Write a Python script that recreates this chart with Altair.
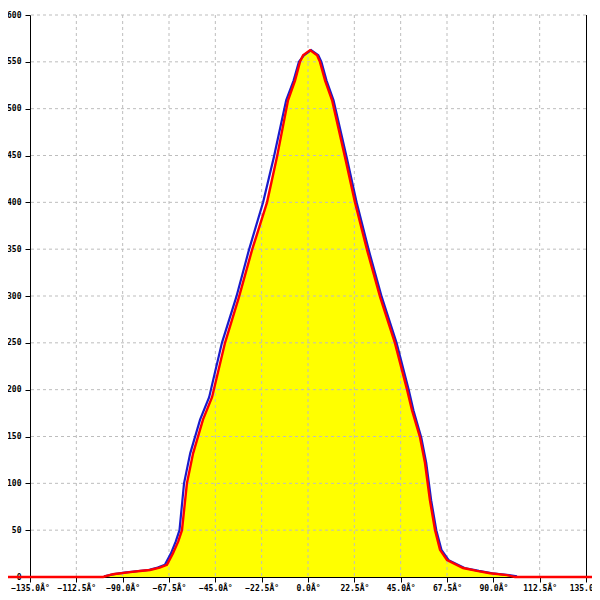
import altair as alt
import pandas as pd

# Tick values
x_ticks = [-135.0, -112.5, -90.0, -67.5, -45.0, -22.5, 0.0, 22.5, 45.0, 67.5, 90.0, 112.5, 135.0]
y_ticks = [0, 50, 100, 150, 200, 250, 300, 350, 400, 450, 500, 550, 600]

# Red series (angle in degrees, count)
red_x = [-150, -99.5, -94.7, -87.5, -81.6, -76.7, -72, -68.5, -65.6, -63, -61.2, -58.8, -55.8, -51.0,
         -46.6, -40.3, -33.5, -27.2, -19.9, -15.1, -9.7, -6.3, -3.9, -2.4, 1.0, 4.4, 5.8, 8.3, 11.7,
         18.0, 22.8, 28.7, 35.0, 42.2, 48.1, 50.5, 54.4, 56.8, 59.2, 61.7, 64.1, 67.5, 75.3, 82.0,
         88.4, 96.6, 100.5, 145]
red_y = [0, 0, 3, 5, 6.4, 7.5, 10, 13, 25, 38, 50, 100, 132, 168, 192, 250, 299, 349, 400, 448, 509,
         530, 550, 557, 562.5, 557, 550, 530, 509, 448, 400, 349, 299, 250, 200, 178, 149, 122, 82,
         50, 29, 18, 9.6, 6.5, 4, 2, 0, 0]

# Blue series
blue_x = [-99, -94.2, -88.2, -82.3, -77.5, -73, -69.5, -66.6, -64.2, -62.4, -60.2, -57.2, -52.4, -48,
          -41.8, -34.8, -28.7, -21.8, -16.6, -10.6, -7, -4.4, -2.0, 1.5, 5.0, 6.5, 9, 12.4, 18.8,
          23.6, 29.5, 35.8, 43, 48.9, 51.2, 55, 57.4, 59.8, 62.3, 64.8, 68.3, 76, 83, 89.5, 97.6,
          101.5]
blue_y = [0.8, 3, 5, 6.4, 7.5, 10, 13, 25, 38, 50, 100, 132, 168, 192, 250, 299, 349, 400, 448, 509,
          530, 550, 557, 562.5, 557, 550, 530, 509, 448, 400, 349, 299, 250, 200, 178, 149, 122, 82,
          50, 29, 18, 9.6, 6.5, 4, 2, 0.8]

red_df = pd.DataFrame({"angle": red_x, "count": red_y})
blue_df = pd.DataFrame({"angle": blue_x, "count": blue_y})
gridx_df = pd.DataFrame({"angle": x_ticks[1:-1]})
gridy_df = pd.DataFrame({"count": y_ticks[1:]})
border_df = pd.DataFrame({"angle": [x_ticks[-1]]})

FONT = "DejaVu Sans Mono"

xscale = alt.Scale(domain=[x_ticks[0], x_ticks[-1]], nice=False, zero=False)
yscale = alt.Scale(domain=[y_ticks[0], y_ticks[-1]], nice=False, zero=True)

xaxis = alt.Axis(values=x_ticks, labelExpr="format(datum.value, '.1f') + '\u00c2\u00b0'",
                 grid=False, title=None, domainColor="black", tickColor="black", tickSize=5,
                 labelFont=FONT, labelFontSize=8, labelFontWeight="bold", labelColor="black",
                 labelPadding=2, labelFlush=False, labelOverlap=False)
yaxis = alt.Axis(values=y_ticks, format="d", grid=False, title=None, domainColor="black",
                 tickColor="black", tickSize=5, labelFont=FONT, labelFontSize=8,
                 labelFontWeight="bold", labelColor="black", labelPadding=4, labelFlush=False,
                 labelOverlap=False)

X = alt.X("angle:Q", scale=xscale, axis=xaxis)
Y = alt.Y("count:Q", scale=yscale, axis=yaxis)

area = alt.Chart(red_df).mark_area(color="#ffff00", clip=False).encode(x=X, y=Y)

grid_v = alt.Chart(gridx_df).mark_rule(color="#bdbdbd", strokeWidth=1, strokeDash=[3, 3]).encode(x=X)
grid_h = alt.Chart(gridy_df).mark_rule(color="#bdbdbd", strokeWidth=1, strokeDash=[3, 3]).encode(y=Y)
border = alt.Chart(border_df).mark_rule(color="black", strokeWidth=1, xOffset=0.5).encode(x=X)

blue = alt.Chart(blue_df).mark_line(color="#1a1acc", strokeWidth=2.2, clip=False).encode(x=X, y=Y)
red = alt.Chart(red_df).mark_line(color="#ff0000", strokeWidth=2.4, clip=False).encode(x=X, y=Y)

chart = alt.layer(area, grid_v, grid_h, border, blue, red).properties(
    width=556, height=562,
    autosize=alt.AutoSizeParams(type="none"),
    padding={"left": 22, "top": 7, "right": 6, "bottom": 15},
).configure_view(stroke=None)

chart.save("out.html", embed_options={"renderer": "svg", "actions": False})
